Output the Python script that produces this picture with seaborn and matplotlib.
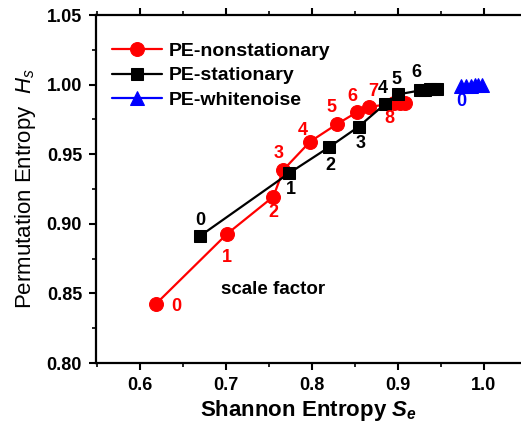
import matplotlib
matplotlib.use("Agg")
import matplotlib.pyplot as plt
import seaborn as sns
import pandas as pd
from matplotlib.ticker import MultipleLocator

# ---- data ----
nonstat_se = [0.619, 0.7017, 0.7556, 0.7672, 0.7983, 0.8293, 0.8526, 0.8669, 0.8960, 0.9030, 0.9090]
nonstat_hs = [0.8424, 0.8927, 0.9195, 0.9387, 0.9590, 0.9715, 0.9801, 0.9839, 0.9866, 0.9868, 0.9868]
stat_se = [0.6703, 0.7738, 0.8203, 0.8549, 0.8855, 0.9009, 0.9262, 0.9320, 0.9380, 0.9420, 0.9460]
stat_hs = [0.8912, 0.9363, 0.9550, 0.9698, 0.9861, 0.9930, 0.9958, 0.9962, 0.9965, 0.9966, 0.9967]
white_se = [0.974, 0.980, 0.985, 0.990, 0.994, 0.998]
white_hs = [0.9990, 0.9992, 0.9993, 0.9994, 0.9994, 0.9995]

series_names = ["PE-nonstationary", "PE-stationary", "PE-whitenoise"]
nonstat_labels = ["0", "1", "2", "3", "4", "5", "6", "7", "8"]
stat_labels = ["0", "1", "2", "3", "4", "5", "6"]
white_labels = ["0"]

# label offsets in pixels (dx, dy)
nonstat_off = [(20, -3), (0, -24), (0, -16), (-5, 16), (-7, 11), (-5, 17), (-4, 16), (4, 16), (-5, -15)]
stat_off = [(0, 16), (2, -16), (1, -18), (2, -17), (-2, 15), (-2, 15), (-4, 18)]
white_off = [(0, -16)]

colors = {"PE-nonstationary": "#ff0000", "PE-stationary": "#000000", "PE-whitenoise": "#0000ff"}
markers = {"PE-nonstationary": "o", "PE-stationary": "s", "PE-whitenoise": "^"}

df = pd.concat([
    pd.DataFrame({"Se": nonstat_se, "Hs": nonstat_hs, "series": series_names[0]}),
    pd.DataFrame({"Se": stat_se, "Hs": stat_hs, "series": series_names[1]}),
    pd.DataFrame({"Se": white_se, "Hs": white_hs, "series": series_names[2]}),
], ignore_index=True)

sns.set_theme(style="ticks")
plt.rcParams["font.family"] = ["Liberation Sans", "DejaVu Sans"]
plt.rcParams["text.color"] = "black"
plt.rcParams["axes.labelcolor"] = "black"
plt.rcParams["xtick.color"] = "black"
plt.rcParams["ytick.color"] = "black"
plt.rcParams["mathtext.fontset"] = "custom"
plt.rcParams["mathtext.it"] = "Liberation Sans:italic"
plt.rcParams["mathtext.bf"] = "Liberation Sans:bold:italic"
plt.rcParams["mathtext.rm"] = "Liberation Sans"

fig = plt.figure(figsize=(5.21, 4.38), dpi=100)
ax = fig.add_axes([96 / 521, 75 / 438, 425 / 521, 348 / 438])

msize = {"PE-nonstationary": 10, "PE-stationary": 8, "PE-whitenoise": 10}
for name in series_names:
    sub = df[df["series"] == name]
    sns.lineplot(data=sub, x="Se", y="Hs", sort=False, ax=ax, color=colors[name],
                 marker=markers[name], markersize=msize[name], markeredgecolor=colors[name],
                 linewidth=1.6, label=name, estimator=None)

ax.set_xlim(0.5494, 0.5494 + 425 / 860)
ax.set_ylim(0.80, 1.05)
ax.xaxis.set_major_locator(MultipleLocator(0.1))
ax.xaxis.set_minor_locator(MultipleLocator(0.05))
ax.yaxis.set_major_locator(MultipleLocator(0.05))
ax.yaxis.set_minor_locator(MultipleLocator(0.025))
ax.xaxis.set_major_formatter(plt.FuncFormatter(lambda v, p: f"{v:.1f}"))
ax.yaxis.set_major_formatter(plt.FuncFormatter(lambda v, p: f"{v:.2f}"))

for side in ["left", "bottom", "top"]:
    ax.spines[side].set_linewidth(1.6)
    ax.spines[side].set_color("black")
ax.spines["right"].set_visible(False)
ax.tick_params(axis="both", which="major", direction="out", length=5, width=1.5,
               labelsize=13, colors="black", pad=5)
ax.tick_params(axis="both", which="minor", direction="out", length=3, width=1.2)
ax.tick_params(axis="x", top=True, which="both")
for t in ax.get_xticklabels() + ax.get_yticklabels():
    t.set_fontweight("bold")

ax.set_xlabel("Shannon Entropy $\\mathbf{S_e}$", fontsize=16, fontweight="bold", labelpad=3)
ax.set_ylabel("Permutation Entropy  $H_s$", fontsize=16, fontweight="normal", labelpad=6)

for xs, ys, labs, offs, c in [
    (nonstat_se, nonstat_hs, nonstat_labels, nonstat_off, colors["PE-nonstationary"]),
    (stat_se, stat_hs, stat_labels, stat_off, colors["PE-stationary"]),
    (white_se, white_hs, white_labels, white_off, colors["PE-whitenoise"]),
]:
    for i, lab in enumerate(labs):
        ax.annotate(lab, (xs[i], ys[i]), xytext=offs[i], textcoords="offset pixels",
                    ha="center", va="center", fontsize=13, fontweight="bold", color=c)

ax.text(273 / 521, 1 - 290 / 438, "scale factor", transform=fig.transFigure, ha="center", va="center",
        fontsize=13.5, fontweight="bold", color="black")

leg = ax.legend(loc="upper left", bbox_to_anchor=(0.01, 0.955), frameon=False,
                prop={"weight": "bold", "size": 14}, handlelength=2.6, handletextpad=0.3,
                labelspacing=0.35, borderaxespad=0.2)

fig.savefig("out.png", dpi=100)
